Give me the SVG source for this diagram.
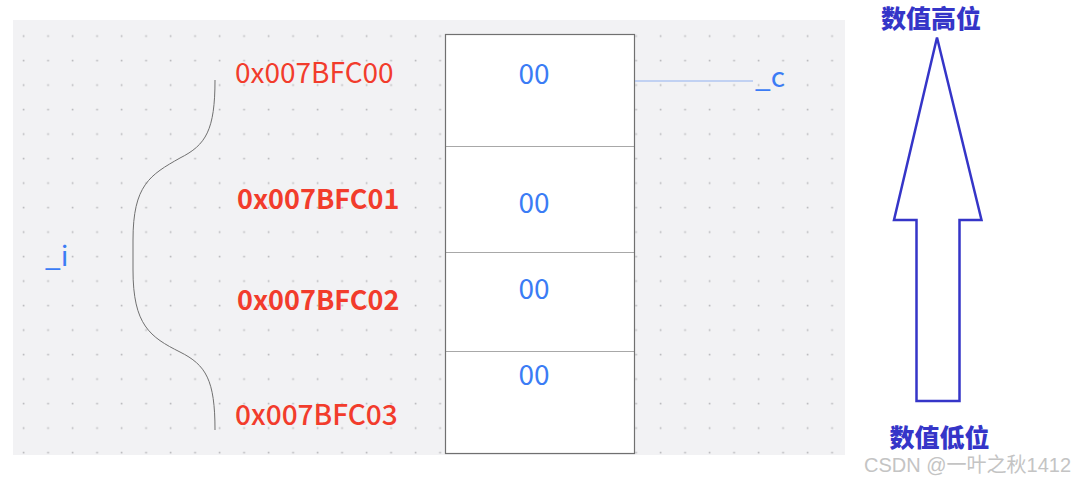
<svg xmlns="http://www.w3.org/2000/svg" width="1079" height="481" viewBox="0 0 1079 481">
  <style>
    .addr { font-family: "Noto Sans CJK SC", "Noto Sans", sans-serif; font-size: 28px; fill: #f23c2c; }
    .bold { font-size: 27px; font-weight: bold; }
    .val { font-family: "Noto Sans CJK SC", "Noto Sans", sans-serif; font-size: 28px; fill: #3b7cf5; text-anchor: middle; }
    .var { font-family: "Noto Sans CJK SC", "Noto Sans", sans-serif; font-size: 28px; fill: #3b7cf5; }
    .cn { font-family: "Noto Sans CJK SC", sans-serif; font-size: 25px; font-weight: 900; fill: #3535c8; text-anchor: middle; }
    .wm { font-family: "Liberation Sans", "Noto Sans CJK SC", sans-serif; font-size: 20px; fill: #c4c4c4; }
    .cell { fill: #ffffff; stroke: #a8a8a8; stroke-width: 1; }
  </style>
  <defs>
    <pattern id="dots" patternUnits="userSpaceOnUse" x="11.25" y="23.75" width="24.5" height="24.5">
      <rect x="11.5" y="11.5" width="1.7" height="1.7" fill="#bcbcc0"/>
    </pattern>
  </defs>
  <rect x="0" y="0" width="1079" height="481" fill="#ffffff"/>
  <g id="canvas">
    <rect x="13" y="20" width="832" height="435" fill="#f2f2f4"/>
    <rect x="13" y="20" width="832" height="435" fill="url(#dots)"/>
  </g>
  <g id="memory">
    <rect class="cell" x="445.5" y="34.5" width="189" height="112"/>
    <rect class="cell" x="445.5" y="146.5" width="189" height="106"/>
    <rect class="cell" x="445.5" y="252.5" width="189" height="99"/>
    <rect class="cell" x="445.5" y="351.5" width="189" height="102"/>
    <rect x="445.5" y="34.5" width="189" height="419" fill="none" stroke="#707070" stroke-width="1.2"/>
    <text class="val" x="534" y="84">00</text>
    <text class="val" x="534" y="213">00</text>
    <text class="val" x="534" y="299">00</text>
    <text class="val" x="534" y="385">00</text>
  </g>
  <g id="addresses">
    <text class="addr" x="235" y="83">0x007BFC00</text>
    <text class="addr bold" x="237" y="209">0x007BFC01</text>
    <text class="addr bold" x="237" y="310">0x007BFC02</text>
    <text class="addr" x="235" y="425" font-weight="500">0x007BFC03</text>
  </g>
  <g id="labels">
    <text class="var" x="755" y="87">_c</text>
    <text class="var" x="45" y="266">_i</text>
  </g>
  <g id="connectors" fill="none">
    <line x1="635" y1="81" x2="753" y2="81" stroke="#8fb0f0" stroke-width="1.2"/>
    <path d="M215,80 C215,130 206,145 180,158 C150,175 133,185 133,240 L133,270 C133,325 150,337 180,352 C206,365 215,380 215,430" stroke="#707070" stroke-width="1"/>
  </g>
  <g id="arrow">
    <polygon points="937,37.5 981.5,220 959.5,220 959.5,401 916.5,401 916.5,220 894,220" fill="#ffffff" stroke="#3535c8" stroke-width="2.5" stroke-linejoin="miter"/>
    <text class="cn" x="931" y="28">数值高位</text>
    <text class="cn" x="939.5" y="447">数值低位</text>
  </g>
  <text class="wm" x="864" y="472">CSDN @一叶之秋1412</text>
</svg>
